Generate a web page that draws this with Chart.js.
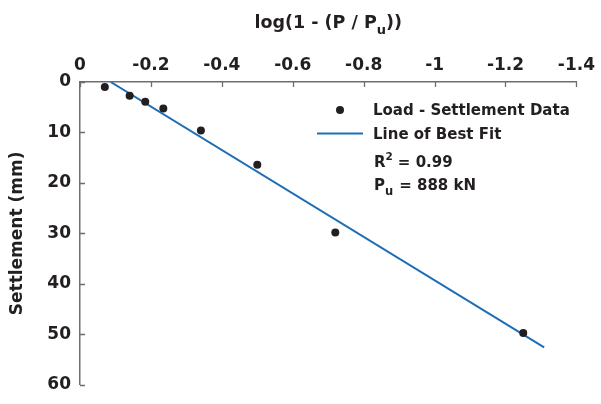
<!DOCTYPE html>
<html>
<head>
<meta charset="utf-8">
<script src="https://cdn.jsdelivr.net/npm/chart.js@4/dist/chart.umd.min.js"></script>
<style>
  html, body { margin: 0; padding: 0; background: #ffffff; }
  #wrap { width: 601px; height: 404px; }
</style>
</head>
<body>
<div id="wrap"><canvas id="chart" width="601" height="404"></canvas></div>
<script>
// Measured load test points: log(1 - P/Pu) against pile head settlement (mm)
const logRatio   = [-0.07, -0.14, -0.184, -0.235, -0.341, -0.50, -0.72, -1.25];
const settlement = [1.0, 2.7, 3.9, 5.25, 9.6, 16.4, 29.8, 49.75];

// Straight line of best fit, given by its two end points
const fitLogRatio   = [-0.0865, -1.309];
const fitSettlement = [0, 52.6];

// Axis ticks
const xTickValues = [0, -0.2, -0.4, -0.6, -0.8, -1, -1.2, -1.4];
const xTickLabels = ['0', '-0.2', '-0.4', '-0.6', '-0.8', '-1', '-1.2', '-1.4'];
const yTickValues = [0, 10, 20, 30, 40, 50, 60];
const yTickLabels = ['0', '10', '20', '30', '40', '50', '60'];

// Text shown beside the legend
const seriesNames = ['Load - Settlement Data', 'Line of Best Fit'];
const rSquaredText = '0.99';
const ultimateLoadText = '888 kN';

const INK = '#231f20';
const AXIS = '#6d6e71';
const BLUE = '#1e6db5';
const FONT = '"DejaVu Sans", sans-serif';

const pointsData = logRatio.map((x, i) => ({ x: x, y: settlement[i] }));
const fitData = fitLogRatio.map((x, i) => ({ x: x, y: fitSettlement[i] }));

// Tick marks pointing into the plot, axis titles and the legend box
const decorations = {
  id: 'decorations',
  afterDatasetsDraw(chart) {
    const ctx = chart.ctx;
    const area = chart.chartArea;
    const xs = chart.scales.x, ys = chart.scales.y;
    ctx.save();

    // inward tick marks
    ctx.strokeStyle = AXIS;
    ctx.lineWidth = 1.3;
    ctx.beginPath();
    xs.ticks.forEach(t => {
      const px = Math.round(xs.getPixelForValue(t.value)) + 0.5;
      ctx.moveTo(px, area.top);
      ctx.lineTo(px, area.top + 5);
    });
    ys.ticks.forEach(t => {
      const py = Math.round(ys.getPixelForValue(t.value)) + 0.5;
      ctx.moveTo(area.left, py);
      ctx.lineTo(area.left + 5, py);
    });
    ctx.stroke();

    ctx.fillStyle = INK;
    ctx.textBaseline = 'alphabetic';

    // x axis title with subscript
    const mainFont = 'bold 17.5px ' + FONT;
    const subFont = 'bold 13px ' + FONT;
    const head = 'log(1 - (P / P', sub = 'u', tail = '))';
    ctx.font = mainFont; const wHead = ctx.measureText(head).width; const wTail = ctx.measureText(tail).width;
    ctx.font = subFont; const wSub = ctx.measureText(sub).width;
    let tx = (area.left + area.right) / 2 - (wHead + wSub + wTail) / 2;
    const ty = 28;
    ctx.textAlign = 'left';
    ctx.font = mainFont; ctx.fillText(head, tx, ty); tx += wHead;
    ctx.font = subFont; ctx.fillText(sub, tx, ty + 6); tx += wSub;
    ctx.font = mainFont; ctx.fillText(tail, tx, ty);

    // y axis title
    ctx.save();
    ctx.translate(18, (area.top + area.bottom) / 2);
    ctx.rotate(-Math.PI / 2);
    ctx.textAlign = 'center';
    ctx.textBaseline = 'middle';
    ctx.font = 'bold 17px ' + FONT;
    ctx.fillText('Settlement (mm)', 0, 0);
    ctx.restore();

    // legend
    const ds = chart.data.datasets;
    const lx = area.left + 237;
    const textX = lx + 56;
    ctx.font = 'bold 15px ' + FONT;
    ctx.textAlign = 'left';
    ctx.textBaseline = 'middle';
    // marker entry
    ctx.fillStyle = ds[0].pointBackgroundColor;
    ctx.beginPath();
    ctx.arc(lx + 23, area.top + 28, ds[0].pointRadius, 0, Math.PI * 2);
    ctx.fill();
    ctx.fillStyle = INK;
    ctx.fillText(ds[0].label, textX, area.top + 29);
    // line entry
    ctx.strokeStyle = ds[1].borderColor;
    ctx.lineWidth = ds[1].borderWidth;
    ctx.beginPath();
    ctx.moveTo(lx, area.top + 51.5);
    ctx.lineTo(lx + 46, area.top + 51.5);
    ctx.stroke();
    ctx.fillText(ds[1].label, textX, area.top + 53);

    // R^2 and Pu notes
    ctx.textBaseline = 'alphabetic';
    let nx = textX + 1;
    const rBase = area.top + 84.5;
    ctx.font = 'bold 15px ' + FONT;
    ctx.fillText('R', nx, rBase); nx += ctx.measureText('R').width;
    ctx.font = 'bold 10.5px ' + FONT;
    ctx.fillText('2', nx, rBase - 7); nx += ctx.measureText('2').width + 5;
    ctx.font = 'bold 15px ' + FONT;
    ctx.fillText('= ' + rSquaredText, nx, rBase);

    nx = textX + 1;
    const pBase = area.top + 108;
    ctx.fillText('P', nx, pBase); nx += ctx.measureText('P').width;
    ctx.font = 'bold 11.5px ' + FONT;
    ctx.fillText('u', nx, pBase + 5); nx += ctx.measureText('u').width + 6;
    ctx.font = 'bold 15px ' + FONT;
    ctx.fillText('= ' + ultimateLoadText, nx, pBase);

    ctx.restore();
  }
};

new Chart(document.getElementById('chart'), {
  type: 'scatter',
  data: {
    datasets: [
      {
        label: seriesNames[0],
        data: pointsData,
        pointRadius: 4,
        pointHoverRadius: 4,
        pointBackgroundColor: INK,
        pointBorderWidth: 0,
        borderColor: INK,
        showLine: false,
        order: 1
      },
      {
        label: seriesNames[1],
        data: fitData,
        showLine: true,
        borderColor: BLUE,
        borderWidth: 2,
        pointRadius: 0,
        fill: false,
        order: 2
      }
    ]
  },
  options: {
    responsive: false,
    devicePixelRatio: 1,
    animation: false,
    events: [],
    layout: { padding: { left: 0, top: 0, right: 18, bottom: 10 } },
    plugins: {
      legend: { display: false },
      tooltip: { enabled: false }
    },
    scales: {
      x: {
        type: 'linear',
        position: 'top',
        min: -1.4,
        max: 0,
        reverse: true,
        afterBuildTicks(scale) {
          scale.ticks = xTickValues.map(v => ({ value: v }));
        },
        afterFit(scale) { scale.height = 82; },
        ticks: {
          color: INK,
          font: { family: FONT, size: 17, weight: 'bold' },
          padding: 6,
          maxRotation: 0,
          autoSkip: false,
          callback: (v) => xTickLabels[xTickValues.indexOf(v)]
        },
        grid: { color: 'transparent', drawTicks: false },
        border: { display: true, color: AXIS, width: 1.5 }
      },
      y: {
        type: 'linear',
        position: 'left',
        min: 0,
        max: 60,
        reverse: true,
        afterBuildTicks(scale) {
          scale.ticks = yTickValues.map(v => ({ value: v }));
        },
        afterFit(scale) { scale.width = 80; },
        ticks: {
          color: INK,
          font: { family: FONT, size: 17, weight: 'bold' },
          padding: 9,
          autoSkip: false,
          callback: (v) => yTickLabels[yTickValues.indexOf(v)]
        },
        grid: { color: 'transparent', drawTicks: false },
        border: { display: true, color: AXIS, width: 1.5 }
      }
    }
  },
  plugins: [decorations]
});
</script>
</body>
</html>
